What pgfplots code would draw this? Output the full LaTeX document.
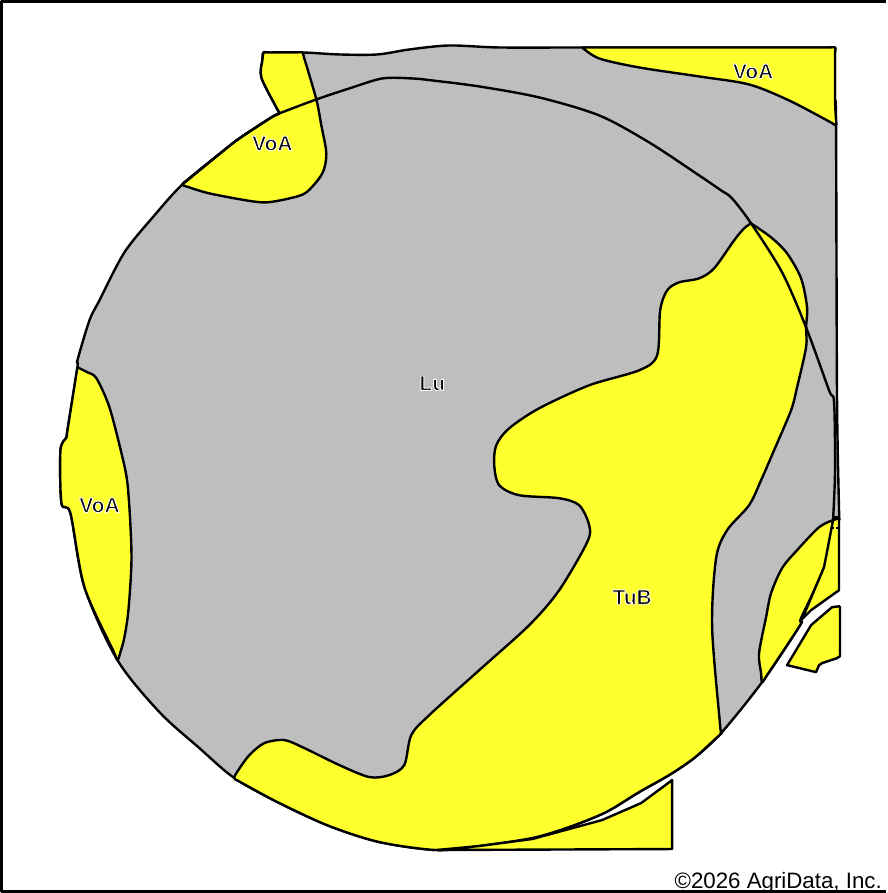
\documentclass[border=0pt]{standalone}
\usepackage{pgfplots}
\pgfplotsset{compat=1.18}
\usepackage{fontspec}
\setmainfont{Liberation Sans}
\definecolor{soilgray}{RGB}{190,190,190}
\definecolor{soilyellow}{RGB}{255,255,45}
% white outline round the map labels: one text, filled and stroked
\newcommand{\halo}[1]{\special{pdf:code q 2 Tr 0.9 w 1 j 1 1 1 RG}#1\special{pdf:code Q}}
\tikzset{maplabel/.style={font=\fontsize{21bp}{24bp}\selectfont\bfseries, text=black}}
\begin{document}
\begin{tikzpicture}
\begin{axis}[
    scale only axis, width=887bp, height=893bp,
    xmin=0, xmax=887, ymin=0, ymax=893, y dir=reverse,
    hide axis, clip=false,
    every axis plot/.append style={line width=2.4bp, draw=black, line join=round, no markers},
    curve/.style={smooth, tension=0.5},
]
% Lu, whole gray unit
\addplot[fill=soilgray, curve] coordinates {
 (280,113) (277,107) (262,77) (263,60) (264,52) (270,52) (304,52) (340,54) (378,54) (410,49) (450,45) (500,47) (583,47)
 (640,47) (700,47) (760,47) (810,47) (830,47) (836,47) (836,52) (836,70) (836,100) (837,125) (838,400) (840,510) (840,518) (834,520) (825,567) (802,618) (801,625) (763,682) (722,733)
 (695,758) (670,775) (640,792) (607,812) (570,827) (533,838) (480,846) (437,850) (380,842) (330,826) (280,803) (235,778)
 (200,748) (160,712) (118,660) (85,587) (71,513) (62,503) (61,450) (67,437) (68,430) (78,367) (78,360) (90,320) (100,300) (125,252) (155,215) (183,184) (222,152) (240,138) (272,117) (280,113)} ;
% VoA north west
\addplot[fill=soilyellow, curve] coordinates {
 (264,52) (270,52) (296,52) (303,52) (305,58) (317,99) (322,125) (327,153) (323,173) (307,192) (290,198) (267,202) (247,200) (210,193) (190,187) (183,184)
 (190,178) (222,152) (240,138) (272,117) (280,113) (277,107) (262,77) (263,60) (264,52)};
% VoA north east
\addplot[fill=soilyellow, curve] coordinates {
 (583,47) (600,58) (640,67) (700,76) (750,84) (790,100) (830,121) (837,125) (837,120) (836,100) (836,70) (836,52) (836,47) (830,47) (810,47) (760,47) (700,47) (640,47) (590,47) (583,47)};
% VoA west
\addplot[fill=soilyellow, curve] coordinates {
 (78,367) (88,372) (97,378) (110,407) (123,457) (128,483) (131,525) (132,563) (129,610) (125,637) (121,652) (118,660)
 (114,651) (85,587) (71,513) (62,503) (61,450) (67,437) (68,430) (77,373) (78,367)};
% TuB
\addplot[fill=soilyellow, curve] coordinates {
 (752,223) (772,237) (788,253) (802,278) (808,307) (807,327) (807,347) (798,387) (792,410) (775,450) (762,480) (750,505)
 (728,530) (717,558) (713,627) (721,725) (722,733) (716,739) (695,758) (670,775) (640,792) (607,812) (570,827) (533,838) (480,846) (437,850) (380,842) (330,826)
 (280,803) (241,782) (235,778) (239,770) (250,755) (265,743) (285,740) (305,748) (340,765) (370,777) (390,775) (405,765) (412,735) (430,715)
 (480,670) (530,625) (560,590) (588,542) (590,525) (580,505) (560,498) (520,495) (500,485) (495,465) (497,445) (510,428)
 (540,408) (590,385) (640,370) (658,355) (661,310) (668,290) (680,282) (700,278) (715,268) (735,240) (745,228) (752,223)};
% east lens
\addplot[fill=soilyellow, curve] coordinates {
 (834,520) (820,527) (798,550) (783,568) (772,593) (767,617) (760,653) (762,673) (763,682) (768,675) (801,625) (802,618) (825,567) (834,520)};
% east sliver
\addplot[fill=soilyellow] coordinates {
 (834,520) (840,518) (840,590) (826,600) (812,610) (803,619) (825,567) (834,520)};
\addplot coordinates {(832,528) (840,528)};
% detached pieces
\addplot[fill=soilyellow] coordinates {
 (841,606) (833,607) (812,625) (788,665) (817,672) (820,665) (823,663) (838,658) (841,656) (841,606)};
\addplot[fill=soilyellow] coordinates {
 (437,850) (673,849) (673,780) (665,786) (642,803) (603,820) (533,839) (480,846) (437,850)};
% field boundary
\addplot[curve] coordinates {
 (183,184) (222,152) (240,138) (272,117) (280,113) (317,99) (350,88) (383,78) (413,78) (433,80) (480,86) (540,97) (600,115)
 (650,142) (700,175) (722,190) (733,198) (752,223) (783,272) (807,327) (830,390) (835,402) (836,470) (834,520)};
% labels
\node[maplabel] at (axis cs:273,143) {\halo{VoA}};
\node[maplabel] at (axis cs:754,71) {\halo{VoA}};
\node[maplabel] at (axis cs:100,505) {\halo{VoA}};
\node[maplabel] at (axis cs:433,383) {\halo{Lu}};
\node[maplabel] at (axis cs:633,597) {\halo{TuB}};
\node[font=\fontsize{22.3bp}{24bp}\selectfont, anchor=base east, inner sep=0pt] at (axis cs:883,888) {©2026 AgriData, Inc.};
% map frame
\addplot[line width=3bp] coordinates {(887,1) (2,1) (2,891.5) (887,891.5)};
\end{axis}
\end{tikzpicture}
\end{document}
